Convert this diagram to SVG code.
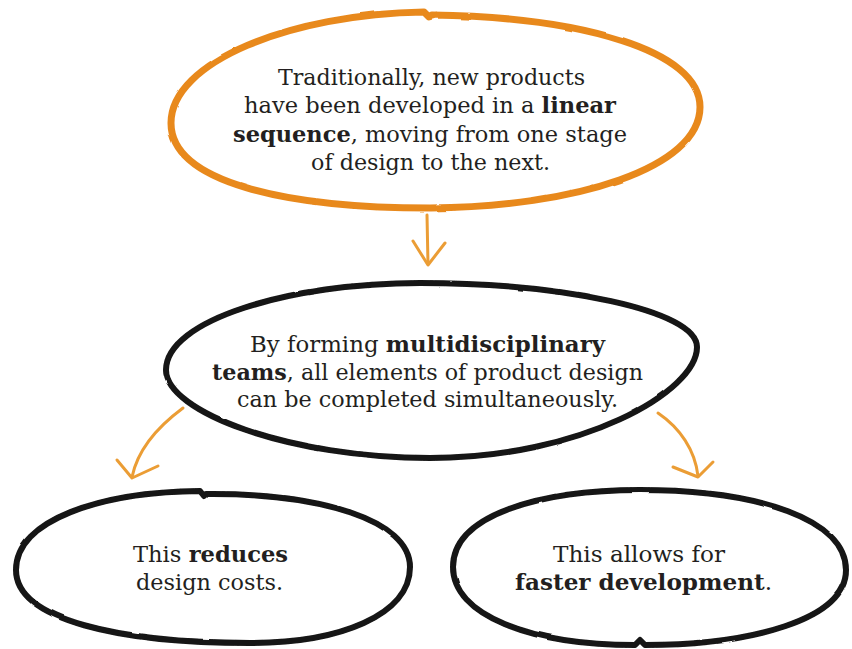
<svg xmlns="http://www.w3.org/2000/svg" width="852" height="649" viewBox="0 0 852 649">
<defs>
<filter id="rough" x="-5%" y="-5%" width="110%" height="110%">
<feTurbulence type="fractalNoise" baseFrequency="0.04" numOctaves="2" seed="3" result="n"/>
<feDisplacementMap in="SourceGraphic" in2="n" scale="2" xChannelSelector="R" yChannelSelector="G"/>
</filter>
</defs>
<style>
.txt{font-family:"DejaVu Serif","Liberation Serif",serif;font-size:23px;fill:#231f20;}
.b{font-weight:bold;}
.orange{fill:none;stroke:#e8891f;stroke-width:7;stroke-linecap:round;stroke-linejoin:round;}
.black{fill:none;stroke:#141414;stroke-width:6;stroke-linecap:round;stroke-linejoin:round;}
.conn{fill:none;stroke:#eb9d35;stroke-width:3;stroke-linecap:round;stroke-linejoin:round;}
</style>
<rect width="852" height="649" fill="#ffffff"/>
<g id="connectors">
<path class="conn" d="M427,215 L428,264"/>
<path class="conn" d="M413,241 L428,265 L445,243"/>
<path class="conn" d="M183,408 C160,425 138,448 132,477"/>
<path class="conn" d="M117,460 L132,478 L158,466"/>
<path class="conn" d="M658,413 C680,428 695,450 698,476"/>
<path class="conn" d="M673,467 L698,477 L713,462"/>
</g>
<g id="node-linear">
<path class="orange" filter="url(#rough)" d="M432,15 C580,17 700,50 700,107 C700,168 575,207 430,208 C285,208 171,182 171,123 C171,62 290,14 424,12 L429,17 L436,15"/>
<text class="txt" x="278" y="85" textLength="307" lengthAdjust="spacingAndGlyphs">Traditionally, new products</text>
<text class="txt" x="244" y="113" textLength="372" lengthAdjust="spacingAndGlyphs">have been developed in a <tspan class="b">linear</tspan></text>
<text class="txt" x="233" y="142" textLength="394" lengthAdjust="spacingAndGlyphs"><tspan class="b">sequence</tspan>, moving from one stage</text>
<text class="txt" x="311" y="170" textLength="239" lengthAdjust="spacingAndGlyphs">of design to the next.</text>
</g>
<g id="node-teams">
<path class="black" filter="url(#rough)" d="M420,283 C560,283 697,310 697,347 C697,392 580,458 430,458 C290,458 166,412 166,370 C166,320 290,283 420,283 Z"/>
<text class="txt" x="250" y="352" textLength="355" lengthAdjust="spacingAndGlyphs">By forming <tspan class="b">multidisciplinary</tspan></text>
<text class="txt" x="212" y="380" textLength="431" lengthAdjust="spacingAndGlyphs"><tspan class="b">teams</tspan>, all elements of product design</text>
<text class="txt" x="237" y="407" textLength="381" lengthAdjust="spacingAndGlyphs">can be completed simultaneously.</text>
</g>
<g id="node-costs">
<path class="black" filter="url(#rough)" d="M206,494 C320,493 410,520 410,567 C410,615 340,643 250,643 C120,643 16,620 16,570 C16,520 100,492 200,491 L204,496 Z"/>
<text class="txt" x="133" y="562" textLength="155" lengthAdjust="spacingAndGlyphs">This <tspan class="b">reduces</tspan></text>
<text class="txt" x="136" y="590" textLength="147" lengthAdjust="spacingAndGlyphs">design costs.</text>
</g>
<g id="node-faster">
<path class="black" filter="url(#rough)" d="M640,490 C760,490 846,520 846,570 C846,620 750,645 645,645 L640,640 L635,645 C530,645 453,615 453,567 C453,515 540,490 640,490 Z"/>
<text class="txt" x="553" y="562" textLength="172" lengthAdjust="spacingAndGlyphs">This allows for</text>
<text class="txt" x="515" y="590" textLength="257" lengthAdjust="spacingAndGlyphs"><tspan class="b">faster development</tspan>.</text>
</g>
</svg>
